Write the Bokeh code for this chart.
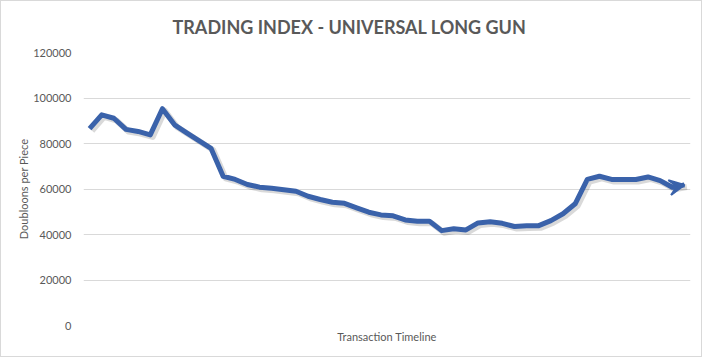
from bokeh.plotting import figure
from bokeh.models import Range1d, FixedTicker, Arrow, VeeHead, ColumnDataSource
from bokeh.transform import dodge
from bokeh.embed import file_html
from bokeh.resources import INLINE

# ---- data ----
prices = [86500, 92600, 91100, 86200, 85300, 83800, 95300, 88200, 84700, 81300,
          77900, 65600, 64200, 62000, 60800, 60300, 59700, 59000, 56800, 55400,
          54200, 53700, 51700, 49800, 48600, 48200, 46400, 45800, 45800, 41700,
          42500, 42000, 45100, 45600, 44900, 43500, 43800, 43900, 46100, 49100,
          53500, 64200, 65600, 64200, 64200, 64200, 65300, 63700, 60800, 61800]
steps = list(range(len(prices)))
y_ticks = [0, 20000, 40000, 60000, 80000, 100000, 120000]
y_tick_labels = ["0", "20000", "40000", "60000", "80000", "100000", "120000"]

title_text = "TRADING INDEX - UNIVERSAL LONG GUN"
x_label = "Transaction Timeline"
y_label = "Doubloons per Piece"

LINE = "#3a62aa"
TEXT = "#595959"
FONT = "Lato"

src = ColumnDataSource(dict(x=steps, y=prices))

p = figure(width=702, height=357, output_backend="svg", toolbar_location=None,
           x_range=Range1d(-0.5, len(prices) - 0.5), y_range=Range1d(0, 120000),
           min_border_left=82, min_border_right=13, min_border_top=51,
           min_border_bottom=33, background_fill_color="white",
           border_fill_color="white")
p.styles = {"border": "1px solid #d9d9d9"}

p.title.text = title_text
p.title.align = "left"
p.title.offset = 89
p.title.vertical_align = "top"
p.title.text_font = FONT
p.title.text_font_size = "18px"
p.title.text_font_style = "bold"
p.title.text_color = TEXT
p.title.standoff = 25

p.outline_line_color = None
p.xgrid.visible = False
p.ygrid.grid_line_color = "#d9d9d9"
p.ygrid.grid_line_width = 1

p.yaxis.ticker = FixedTicker(ticks=y_ticks)
p.yaxis.major_label_overrides = dict(zip(y_ticks, y_tick_labels))
p.yaxis.axis_line_color = None
p.yaxis.major_tick_line_color = None
p.yaxis.minor_tick_line_color = None
p.yaxis.major_tick_out = 0
p.yaxis.major_tick_in = 0
p.yaxis.major_label_standoff = 12
p.yaxis.major_label_text_font = FONT
p.yaxis.major_label_text_font_size = "11px"
p.yaxis.major_label_text_color = TEXT
p.yaxis.axis_label = y_label
p.yaxis.axis_label_text_font = FONT
p.yaxis.axis_label_text_font_size = "11px"
p.yaxis.axis_label_text_font_style = "normal"
p.yaxis.axis_label_text_color = TEXT
p.yaxis.axis_label_standoff = 0

p.xaxis.ticker = FixedTicker(ticks=[])
p.xaxis.axis_line_color = None
p.xaxis.major_tick_line_color = None
p.xaxis.minor_tick_line_color = None
p.xaxis.major_tick_out = 0
p.xaxis.major_tick_in = 0
p.xaxis.axis_label = x_label
p.xaxis.axis_label_text_font = FONT
p.xaxis.axis_label_text_font_size = "11px"
p.xaxis.axis_label_text_font_style = "normal"
p.xaxis.axis_label_text_color = TEXT
p.xaxis.axis_label_standoff = 4

# soft shadow
p.line(x=dodge("x", 0.2, range=p.x_range), y=dodge("y", -900, range=p.y_range),
       source=src, line_width=6, line_color="black", line_alpha=0.15,
       line_join="round")
# main series
p.line(x="x", y="y", source=src, line_width=5, line_color=LINE, line_join="round")

arrow_src = ColumnDataSource(dict(x0=[steps[-2]], y0=[prices[-2]],
                                  x1=[steps[-1]], y1=[prices[-1]]))
p.add_layout(Arrow(end=VeeHead(size=15, fill_color=LINE, line_color=LINE, line_width=2),
                   x_start="x0", y_start="y0", x_end="x1", y_end="y1",
                   source=arrow_src, line_color=LINE, line_width=5))

open("out.html", "w").write(file_html(p, INLINE))
